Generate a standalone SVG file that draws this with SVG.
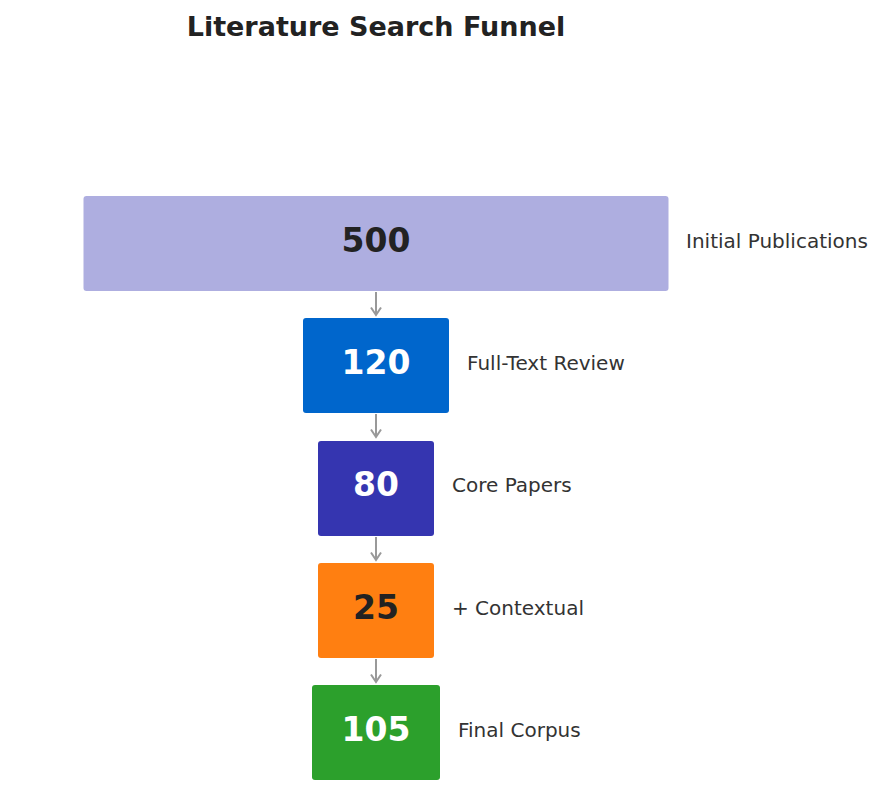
<svg xmlns="http://www.w3.org/2000/svg" width="881" height="809" viewBox="0 0 881 809">
<style>
.num{font-family:"DejaVu Sans",sans-serif;font-weight:bold;font-size:33px;text-anchor:middle}
.lbl{font-family:"DejaVu Sans",sans-serif;font-size:20px;fill:#333}
.title{font-family:"DejaVu Sans",sans-serif;font-weight:bold;font-size:27px;fill:#222;text-anchor:middle}
.conn{stroke:#999;stroke-width:2;fill:none}
</style>
<defs>
<marker id="arr" viewBox="0 0 12 14" refX="10" refY="7" markerWidth="12" markerHeight="14" markerUnits="userSpaceOnUse" orient="auto">
<path d="M2.5,2 L10,7 L2.5,12" fill="none" stroke="#999" stroke-width="2"/>
</marker>
</defs>
<rect width="881" height="809" fill="#fff"/>
<text class="title" x="376" y="36">Literature Search Funnel</text>
<g id="connectors">
<line class="conn" x1="376" y1="292" x2="376" y2="315" marker-end="url(#arr)"/>
<line class="conn" x1="376" y1="414" x2="376" y2="437" marker-end="url(#arr)"/>
<line class="conn" x1="376" y1="537" x2="376" y2="560" marker-end="url(#arr)"/>
<line class="conn" x1="376" y1="659" x2="376" y2="682" marker-end="url(#arr)"/>
</g>
<g id="node-500">
<rect x="83.5" y="196" width="585" height="95" rx="3" fill="#AEAEE0"/>
<text class="num" x="376" y="252" fill="#222">500</text>
<text class="lbl" x="686" y="248">Initial Publications</text>
</g>
<g id="node-120">
<rect x="303" y="318" width="146" height="95" rx="3" fill="#0066CC"/>
<text class="num" x="376" y="374" fill="#fff">120</text>
<text class="lbl" x="467" y="370">Full-Text Review</text>
</g>
<g id="node-80">
<rect x="318" y="441" width="116" height="95" rx="3" fill="#3535B0"/>
<text class="num" x="376" y="496" fill="#fff">80</text>
<text class="lbl" x="452" y="492">Core Papers</text>
</g>
<g id="node-25">
<rect x="318" y="563" width="116" height="95" rx="3" fill="#FF7F11"/>
<text class="num" x="376" y="619" fill="#222">25</text>
<text class="lbl" x="452" y="615">+ Contextual</text>
</g>
<g id="node-105">
<rect x="312" y="685" width="128" height="95" rx="3" fill="#2CA02C"/>
<text class="num" x="376" y="741" fill="#fff">105</text>
<text class="lbl" x="458" y="737">Final Corpus</text>
</g>
</svg>
